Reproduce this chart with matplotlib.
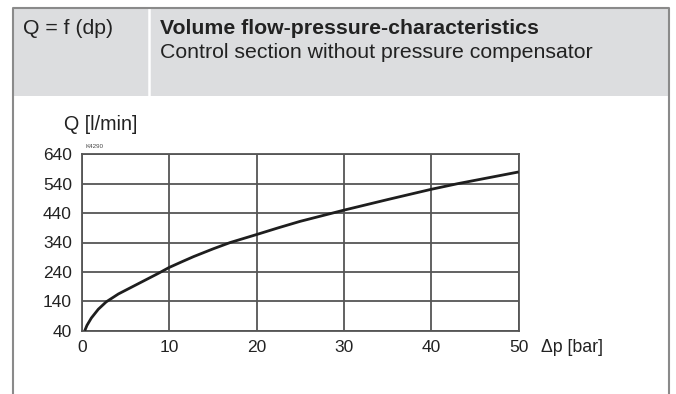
import matplotlib
matplotlib.use("Agg")
import matplotlib.pyplot as plt
from matplotlib.patches import Rectangle
from matplotlib.lines import Line2D

plt.rcParams['font.family'] = ['Liberation Sans', 'DejaVu Sans']

# flow Q [l/min] over pressure drop dp [bar]
dp = [0.35, 0.6, 1.1, 1.9, 2.8, 4.2, 5.7, 7.2, 8.7, 10, 11.5, 12.8, 15, 17, 20,
      22.5, 25, 27.5, 30, 35, 40, 43, 46.5, 50]
Q = [40, 58, 83, 113, 138, 165, 188, 211, 234, 255, 275, 292, 318, 340, 367,
     390, 412, 431, 450, 486, 521, 540, 560, 580]

x_ticks = [0, 10, 20, 30, 40, 50]
y_ticks = [40, 140, 240, 340, 440, 540, 640]

W, H = 676, 394
fig = plt.figure(figsize=(W / 100, H / 100), dpi=100)


def fx(px):
    return px / W


def fy(py):
    return 1 - py / H


# header box and outer frame
frame_col = '#8a8a8a'
fig.patches.append(Rectangle((fx(12.5), fy(96)), fx(669) - fx(12.5), fy(7.5) - fy(96),
                             transform=fig.transFigure, facecolor='#dcdddf',
                             edgecolor='none', zorder=0))
fig.lines.append(Line2D([fx(148.5), fx(148.5)], [fy(7.5), fy(96)], transform=fig.transFigure,
                        color='white', lw=1.8))
fig.lines.append(Line2D([fx(12.5), fx(12.5), fx(669), fx(669)], [fy(394), fy(7.5), fy(7.5), fy(394)],
                        transform=fig.transFigure, color=frame_col, lw=1.5))

fig.text(fx(23), fy(28), 'Q = f (dp)', fontsize=15.3, va='center', ha='left', color='#222')
fig.text(fx(160), fy(28), 'Volume flow-pressure-characteristics', fontsize=15.3,
         fontweight='bold', va='center', ha='left', color='#222')
fig.text(fx(160), fy(52), 'Control section without pressure compensator', fontsize=15.3,
         va='center', ha='left', color='#222')

ax = fig.add_axes([fx(81.7), fy(330.7), fx(518.7) - fx(81.7), fy(154.3) - fy(330.7)])
ax.plot(dp, Q, color='#1e1e1e', lw=2.0, solid_capstyle='butt', zorder=3)
ax.set_xlim(0, 50)
ax.set_ylim(40, 640)
ax.set_xticks(x_ticks)
ax.set_yticks(y_ticks)
ax.grid(True, color='#555555', lw=1.3)
for s in ax.spines.values():
    s.set_color('#555555')
    s.set_linewidth(1.3)
ax.tick_params(length=0, labelsize=12.5, colors='#222', pad=7)

fig.text(fx(64), fy(125), 'Q [l/min]', fontsize=14.2, va='center', ha='left', color='#222')
fig.text(fx(85), fy(146), 'K4290', fontsize=4.5, va='center', ha='left', color='#444')
fig.text(fx(541), fy(348), '\u0394p [bar]', fontsize=12.8, va='center', ha='left', color='#222')

fig.savefig('out.png', dpi=100)
